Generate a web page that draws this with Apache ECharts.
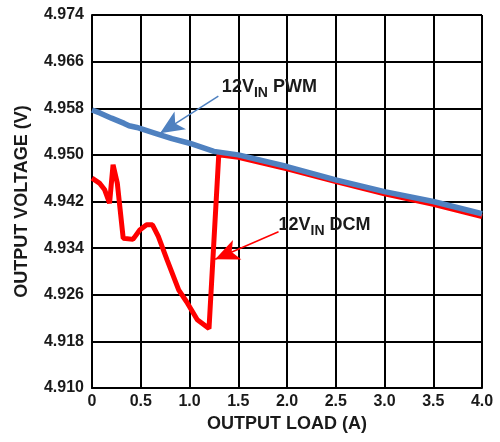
<!DOCTYPE html>
<html>
<head>
<meta charset="utf-8">
<script src="https://cdn.jsdelivr.net/npm/echarts@6/dist/echarts.min.js"></script>
<style>html,body{margin:0;padding:0;background:#fff}#c{width:500px;height:442px}</style>
</head>
<body>
<div id="c"></div>
<script>
// Data
const pwmLoad = [0, 0.08, 0.2, 0.33, 0.38, 0.46, 0.65, 0.82, 1.0, 1.25, 1.5, 2.0, 2.5, 3.0, 3.5, 4.0];
const pwmVout = [4.9577, 4.9572, 4.9563, 4.9554, 4.9550, 4.9547, 4.9537, 4.9528, 4.9520, 4.9506, 4.9500, 4.9480, 4.9457, 4.9437, 4.9420, 4.9399];
const dcmLoad = [0, 0.08, 0.13, 0.18, 0.216, 0.26, 0.32, 0.42, 0.49, 0.56, 0.62, 0.68, 0.77, 0.89, 0.97, 1.08, 1.20, 1.30, 1.5, 2.0, 2.5, 3.0, 3.5, 4.0];
const dcmVout = [4.9460, 4.9451, 4.9440, 4.9417, 4.9483, 4.9451, 4.9357, 4.9355, 4.9371, 4.9380, 4.9380, 4.9360, 4.9320, 4.9268, 4.9248, 4.9217, 4.9202, 4.9500, 4.9496, 4.9476, 4.9454, 4.9433, 4.9415, 4.9394];
const xTicks = ['0', '0.5', '1.0', '1.5', '2.0', '2.5', '3.0', '3.5', '4.0'];
const yTicks = ['4.910', '4.918', '4.926', '4.934', '4.942', '4.950', '4.958', '4.966', '4.974'];
const pwmArrow = [[1.296, 4.9601], [0.698, 4.9537]];
const dcmArrow = [[1.913, 4.9368], [1.263, 4.9321]];
const pwmLabelPos = [1.332, 4.9617];
const dcmLabelPos = [1.913, 4.9380];

const FONT = 'Liberation Sans, Arial, sans-serif';
const BLUE = '#4f81c0';
const RED = '#ff0000';
const TXT = '#1a1a1a';

function zip(a, b) { return a.map((v, i) => [v, b[i]]); }

const rich = {
  a: { fontSize: 18, fontWeight: 'bold', fontFamily: FONT, color: TXT, lineHeight: 26, verticalAlign: 'middle' },
  b: { fontSize: 14, fontWeight: 'bold', fontFamily: FONT, color: TXT, lineHeight: 12, verticalAlign: 'bottom' }
};

function arrowLine(pts, color) {
  return {
    silent: true,
    symbol: ['none', 'arrow'],
    symbolSize: [16, 24],
    label: { show: false },
    lineStyle: { color: color, width: 1.5, type: 'solid' },
    emphasis: { disabled: true },
    animation: false,
    data: [[{ coord: pts[0] }, { coord: pts[1] }]]
  };
}
function textMark(pos, text) {
  return {
    silent: true,
    symbol: 'circle',
    symbolSize: 0,
    animation: false,
    label: { show: true, position: 'right', distance: 0, formatter: text, rich: rich },
    data: [{ coord: pos }]
  };
}

const chart = echarts.init(document.getElementById('c'), null, { renderer: 'canvas' });
chart.setOption({
  animation: false,
  backgroundColor: '#fff',
  grid: { left: 92, top: 15, right: 18, bottom: 54, containLabel: false },
  xAxis: {
    type: 'value', min: 0, max: 4, interval: 0.5,
    name: 'OUTPUT LOAD (A)', nameLocation: 'middle', nameGap: 21,
    nameTextStyle: { fontSize: 18, fontWeight: 'bold', fontFamily: FONT, color: TXT },
    axisLine: { show: true, lineStyle: { color: '#000', width: 2 } },
    axisTick: { show: false },
    axisLabel: { fontSize: 16, fontWeight: 'bold', fontFamily: FONT, color: TXT, margin: 6,
      formatter: v => xTicks[Math.round(v / 0.5)] },
    splitLine: { show: true, lineStyle: { color: '#000', width: 2 } }
  },
  yAxis: {
    type: 'value', min: 4.910, max: 4.974, interval: 0.008,
    name: 'OUTPUT VOLTAGE (V)', nameLocation: 'middle', nameGap: 61,
    nameTextStyle: { fontSize: 18, fontWeight: 'bold', fontFamily: FONT, color: TXT },
    axisLine: { show: true, lineStyle: { color: '#000', width: 2 } },
    axisTick: { show: false },
    axisLabel: { fontSize: 16, fontWeight: 'bold', fontFamily: FONT, color: TXT, margin: 8,
      formatter: v => yTicks[Math.round((v - 4.910) / 0.008)] },
    splitLine: { show: true, lineStyle: { color: '#000', width: 2 } }
  },
  series: [
    {
      name: '12V DCM', type: 'line', data: zip(dcmLoad, dcmVout),
      showSymbol: false, lineStyle: { color: RED, width: 5 }, itemStyle: { color: RED },
      z: 2, silent: true,
      markLine: arrowLine(dcmArrow, RED),
      markPoint: textMark(dcmLabelPos, '{a|12V}{b|IN}{a| DCM}')
    },
    {
      name: '12V PWM', type: 'line', data: zip(pwmLoad, pwmVout),
      showSymbol: false, lineStyle: { color: BLUE, width: 5.5 }, itemStyle: { color: BLUE },
      z: 3, silent: true,
      markLine: arrowLine(pwmArrow, BLUE),
      markPoint: textMark(pwmLabelPos, '{a|12V}{b|IN}{a| PWM}')
    }
  ]
});
</script>
</body>
</html>
